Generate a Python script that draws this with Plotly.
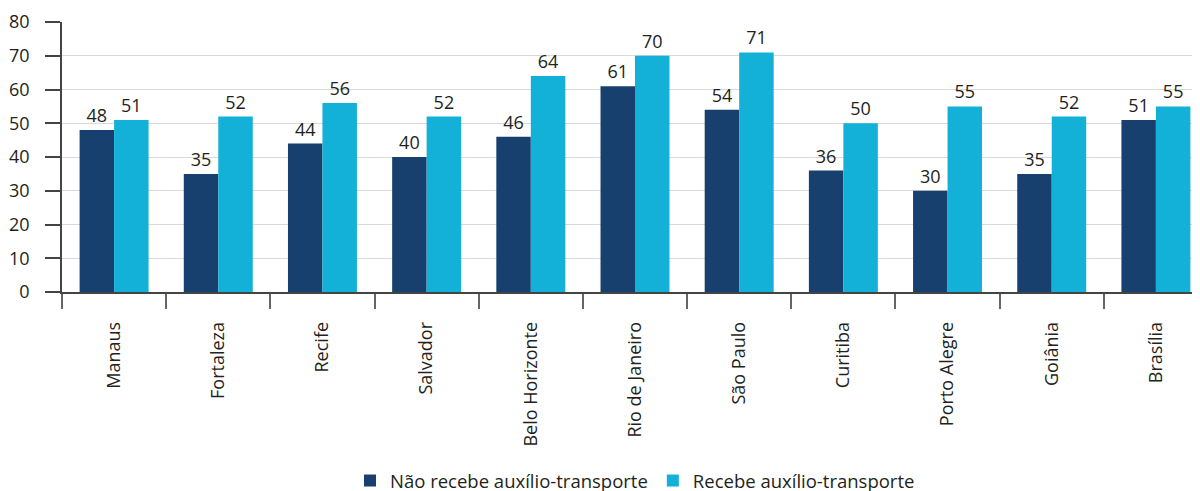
import plotly.graph_objects as go

cities = ["Manaus", "Fortaleza", "Recife", "Salvador", "Belo Horizonte", "Rio de Janeiro",
          "São Paulo", "Curitiba", "Porto Alegre", "Goiânia", "Brasília"]
nao_recebe = [48, 35, 44, 40, 46, 61, 54, 36, 30, 35, 51]
recebe = [51, 52, 56, 52, 64, 70, 71, 50, 55, 52, 55]
series_names = ["Não recebe auxílio-transporte", "Recebe auxílio-transporte"]
y_ticks = [0, 10, 20, 30, 40, 50, 60, 70, 80]

FONT = "Open Sans"
TXT = "#231f20"

fig = go.Figure()
fig.add_trace(go.Bar(x=cities, y=nao_recebe, name=series_names[0], marker_color="#17406f",
                     marker_line_width=0, text=nao_recebe, textposition="outside",
                     textfont=dict(size=18, color=TXT, family=FONT), cliponaxis=False))
fig.add_trace(go.Bar(x=cities, y=recebe, name=series_names[1], marker_color="#13b1d8",
                     marker_line_width=0, text=recebe, textposition="outside",
                     textfont=dict(size=18, color=TXT, family=FONT), cliponaxis=False))

fig.update_layout(
    width=1200, height=491,
    margin=dict(l=54, r=0, t=14, b=207, autoexpand=False),
    plot_bgcolor="white", paper_bgcolor="white",
    barmode="group", bargap=0.338, bargroupgap=0,
    font=dict(family=FONT, size=17, color=TXT),
    showlegend=True,
    legend=dict(orientation="h", x=0.5, xanchor="center", y=-0.70, yanchor="middle",
                font=dict(size=18.5, color=TXT), itemwidth=30, traceorder="normal"),
)
fig.update_xaxes(range=[-0.5, 10.5], tickson="boundaries", ticks="outside", ticklen=15,
                 tickcolor="#666666", tickwidth=1.5, showline=True, linecolor="#444444",
                 linewidth=1.5, tickangle=-90, tickfont=dict(size=18, color=TXT),
                 ticklabelstandoff=21, showgrid=False, automargin=False)
fig.update_yaxes(range=[0, 80], tickvals=y_ticks, ticks="outside", ticklen=15,
                 tickcolor="#444444", tickwidth=1.5, showline=True, linecolor="#444444",
                 linewidth=1.5, gridcolor="#d9d9d9", gridwidth=1.2, zeroline=False,
                 tickfont=dict(size=18, color=TXT), ticklabelstandoff=12, automargin=False)

fig.write_html("out.html")
